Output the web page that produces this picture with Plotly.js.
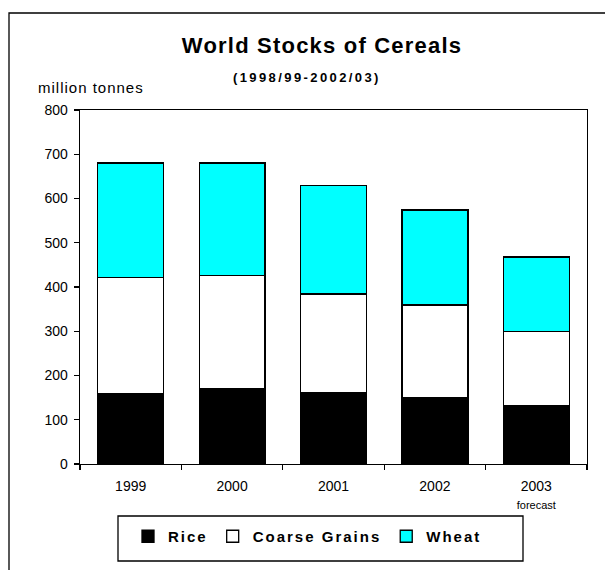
<!DOCTYPE html>
<html>
<head>
<meta charset="utf-8">
<script src="https://cdn.plot.ly/plotly-3.0.1.min.js"></script>
<style>
html,body{margin:0;padding:0;background:#fff;}
#chart{width:605px;height:570px;}
.legendtext{letter-spacing:2px;}
.gtitle{letter-spacing:1.2px;}
</style>
</head>
<body>
<div id="chart"></div>
<script>
const years = ["1999", "2000", "2001", "2002", "2003"];
const yearLabels = ["1999", "2000", "2001", "2002", "2003<br><span style='font-size:11px'>forecast</span>"];
const rice = [158, 170, 161, 149, 132];
const coarseGrains = [264, 256, 223, 210, 167];
const wheat = [258, 254, 245, 215, 169];
const yTicks = [0, 100, 200, 300, 400, 500, 600, 700, 800];

const FONT = "Liberation Sans, Arial, sans-serif";
const W = 605, H = 570;
const L = 80, R = 18, T = 110, B = 106;
const pw = W - L - R, ph = H - T - B;
const px = v => (v - L) / pw;
const py = v => (H - B - v) / ph;

const line = {color: "#000", width: 1.3};
const traces = [
  {type: "bar", name: "<b>Rice</b>", x: years, y: rice, marker: {color: "#000000", line: line}},
  {type: "bar", name: "<b>Coarse Grains</b>", x: years, y: coarseGrains, marker: {color: "#FFFFFF", line: line}},
  {type: "bar", name: "<b>Wheat</b>", x: years, y: wheat, marker: {color: "#00FFFF", line: line}}
];

const layout = {
  width: W, height: H,
  margin: {l: L, r: R, t: T, b: B, pad: 0},
  paper_bgcolor: "#fff", plot_bgcolor: "#fff",
  font: {family: FONT, color: "#000", size: 14},
  barmode: "stack",
  bargap: 0.35,
  showlegend: true,
  title: {
    text: "<b>World Stocks of Cereals</b>",
    font: {family: FONT, size: 22, color: "#000"},
    x: 322 / W, xanchor: "center", xref: "container",
    y: 1 - 45 / H, yanchor: "middle", yref: "container"
  },
  xaxis: {
    type: "category",
    tickvals: years, ticktext: yearLabels,
    tickson: "boundaries",
    ticks: "outside", ticklen: 5, tickwidth: 1.3, tickcolor: "#000",
    ticklabelstandoff: 9,
    showline: true, linecolor: "#000", linewidth: 1.3, mirror: true,
    showgrid: false, zeroline: false,
    tickfont: {family: FONT, size: 14, color: "#000"}
  },
  yaxis: {
    range: [0, 800],
    tickvals: yTicks,
    ticks: "outside", ticklen: 5, tickwidth: 1.3, tickcolor: "#000",
    ticklabelstandoff: 3,
    showline: true, linecolor: "#000", linewidth: 1.3, mirror: true,
    showgrid: false, zeroline: false,
    tickfont: {family: FONT, size: 14, color: "#000"}
  },
  legend: {
    orientation: "h",
    x: px(128), xanchor: "left",
    y: py(520), yanchor: "top",
    bgcolor: "rgba(0,0,0,0)", borderwidth: 0,
    font: {family: FONT, size: 15, color: "#000"},
    traceorder: "normal",
    itemclick: false
  },
  annotations: [
    {text: "<b><span style='letter-spacing:2.4px'>(1998/99-2002/03)</span></b>", xref: "paper", yref: "paper",
     x: px(307), y: py(78), xanchor: "center", yanchor: "middle", showarrow: false,
     font: {family: FONT, size: 13, color: "#000"}},
    {text: "<span style='letter-spacing:1px'>million tonnes</span>", xref: "paper", yref: "paper",
     x: px(36), y: py(87), xanchor: "left", yanchor: "middle", showarrow: false,
     font: {family: FONT, size: 15, color: "#000"}}
  ],
  shapes: [
    {type: "rect", xref: "paper", yref: "paper",
     x0: px(9), x1: px(620), y0: py(590), y1: py(13),
     line: {color: "#000", width: 1.3}, fillcolor: "rgba(0,0,0,0)", layer: "below"},
    {type: "rect", xref: "paper", yref: "paper",
     x0: px(118), x1: px(523), y0: py(561), y1: py(516),
     line: {color: "#000", width: 1.3}, fillcolor: "rgba(0,0,0,0)"}
  ]
};

Plotly.newPlot("chart", traces, layout, {displayModeBar: false, staticPlot: true});
</script>
</body>
</html>
